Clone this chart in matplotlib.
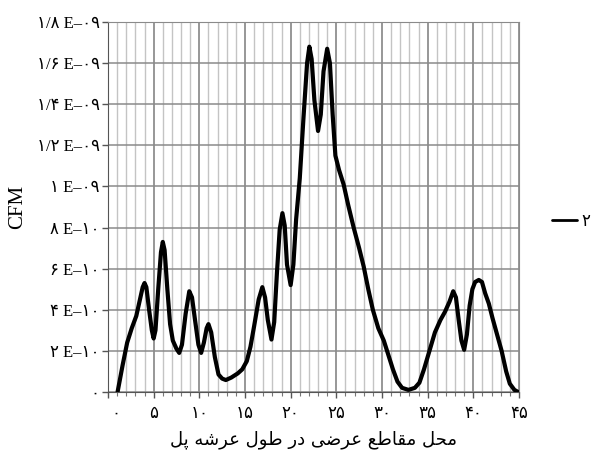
import matplotlib
matplotlib.use("Agg")
import matplotlib.pyplot as plt
import matplotlib.transforms as mtransforms
from matplotlib.ticker import MultipleLocator

plt.rcParams['font.family'] = ['Liberation Serif', 'DejaVu Sans']

# موقعیت مقطع (محور افقی) و مقدار CFM بر حسب 1E-10
x_pos = [1.05, 1.6, 2.1, 2.6, 3.1, 3.5, 3.8, 4.0, 4.2, 4.5, 4.8, 5.0, 5.2, 5.5,
         5.8, 6.0, 6.2, 6.5, 6.8, 7.1, 7.5, 7.8, 8.1, 8.5, 8.9, 9.2, 9.5, 9.9,
         10.2, 10.5, 10.8, 11.0, 11.3, 11.7, 12.1, 12.5, 12.9, 13.5, 14.2, 14.7,
         15.2, 15.6, 16.0, 16.5, 16.9, 17.2, 17.5, 17.9, 18.2, 18.5, 18.8, 19.1,
         19.35, 19.6, 20.0, 20.3, 20.6, 21.0, 21.4, 21.8, 22.05, 22.3, 22.6, 23.0,
         23.3, 23.6, 24.0, 24.3, 24.6, 24.9, 25.3, 25.8, 26.3, 26.9, 27.5, 28.0,
         28.5, 29.0, 29.6, 30.2, 30.7, 31.2, 31.7, 32.2, 32.9, 33.6, 34.1, 34.6,
         35.2, 35.8, 36.4, 36.9, 37.4, 37.8, 38.1, 38.4, 38.7, 39.0, 39.3, 39.6,
         39.9, 40.2, 40.6, 40.95, 41.3, 41.7, 42.1, 42.6, 43.1, 43.6, 44.0, 44.5,
         44.9]
cfm = [0.0, 1.3, 2.4, 3.1, 3.7, 4.5, 5.1, 5.3, 5.1, 4.0, 3.0, 2.6, 3.0, 5.0,
       6.8, 7.3, 6.9, 5.0, 3.3, 2.5, 2.1, 1.9, 2.3, 3.8, 4.9, 4.6, 3.6, 2.3,
       1.9, 2.4, 3.1, 3.3, 2.9, 1.7, 0.85, 0.65, 0.58, 0.7, 0.9, 1.1,
       1.5, 2.2, 3.2, 4.5, 5.1, 4.6, 3.5, 2.55, 3.4, 5.8, 7.9, 8.7,
       8.1, 6.2, 5.2, 6.2, 8.4, 10.4, 13.3, 16.0, 16.8, 16.2, 14.2, 12.7,
       13.5, 15.6, 16.7, 16.0, 13.5, 11.5, 10.8, 10.1, 9.1, 8.0, 7.0, 6.1,
       5.0, 4.0, 3.1, 2.5, 1.8, 1.1, 0.5, 0.2, 0.1, 0.2, 0.45, 1.1,
       2.0, 2.9, 3.5, 3.9, 4.4, 4.9, 4.6, 3.5, 2.5, 2.05, 2.8, 4.2,
       5.0, 5.35, 5.45, 5.35, 4.8, 4.3, 3.6, 2.8, 2.0, 1.0, 0.4, 0.1,
       0.0]

y_ticks = [0, 2, 4, 6, 8, 10, 12, 14, 16, 18]
y_tick_labels = ['۰', '۲ E–۱۰', '۴ E–۱۰', '۶ E–۱۰', '۸ E–۱۰',
                 '۱ E–۰۹', '۱/۲ E–۰۹', '۱/۴ E–۰۹', '۱/۶ E–۰۹', '۱/۸ E–۰۹']
x_ticks = [0, 5, 10, 15, 20, 25, 30, 35, 40, 45]
x_tick_labels = ['۰', '۵', '۱۰', '۱۵', '۲۰', '۲۵', '۳۰', '۳۵', '۴۰', '۴۵']

# عنوان محور افقی: «محل مقاطع عرضی در طول عرشه پل» با حروف متصل
words = ['\uFEE3\uFEA4\uFEDE',
         '\uFEE3\uFED8\uFE8E\uFEC3\uFECA',
         '\uFECB\uFEAE\uFEBF\uFBFD',
         '\uFEA9\uFEAD',
         '\uFEC3\uFEEE\uFEDD',
         '\uFECB\uFEAE\uFEB7\uFEEA',
         '\uFB58\uFEDE']
x_title = ' '.join(w[::-1] for w in reversed(words))

fig = plt.figure(figsize=(5.95, 4.5), dpi=100)
ax = fig.add_axes([0.1815, 0.129, 0.6907, 0.822])

# شبکه: خطوط ریز هر واحد و خطوط پررنگ‌تر هر ۵ واحد
for i in range(46):
    if i % 5 == 0:
        ax.axvline(i, color='#7a7a7a', lw=1.1, zorder=1)
    else:
        ax.axvline(i, color='#c4c4c4', lw=1.0, zorder=1)
for t in y_ticks:
    ax.axhline(t, color='#8a8a8a', lw=1.1, zorder=1)

ax.plot(x_pos, cfm, color='black', lw=3.0, solid_joinstyle='round',
        solid_capstyle='round', label='۲', zorder=3)

ax.set_xlim(0, 45)
ax.set_ylim(0, 18)
ax.set_xticks(x_ticks)
ax.set_xticklabels(x_tick_labels, fontsize=12)
ax.xaxis.set_minor_locator(MultipleLocator(1))
ax.set_yticks(y_ticks)
ax.set_yticklabels(y_tick_labels, fontsize=12)
ax.tick_params(axis='y', length=4, width=1, color='#555555', pad=2)
ax.tick_params(axis='x', which='major', length=4, width=1, color='#555555', pad=6)
ax.tick_params(axis='x', which='minor', length=3, width=0.8, color='#777777')

# برچسب صفر کمی به راست
shift = mtransforms.ScaledTranslation(8 / 100, 0, fig.dpi_scale_trans)
first = ax.get_xticklabels()[0]
first.set_transform(first.get_transform() + shift)

for side in ['left', 'bottom']:
    ax.spines[side].set_color('#555555')
for side in ['top', 'right']:
    ax.spines[side].set_color('#8a8a8a')

ax.set_ylabel('CFM', fontsize=15, labelpad=7)
ax.set_xlabel(x_title, fontsize=13, family=['DejaVu Sans'], labelpad=6)

leg = ax.legend(loc='center left', bbox_to_anchor=(1.065, 0.46), frameon=False,
                borderaxespad=0, handlelength=1.5, handletextpad=0.25, fontsize=12)
leg.get_lines()[0].set_linewidth(2)

fig.savefig('out.png', dpi=100)
